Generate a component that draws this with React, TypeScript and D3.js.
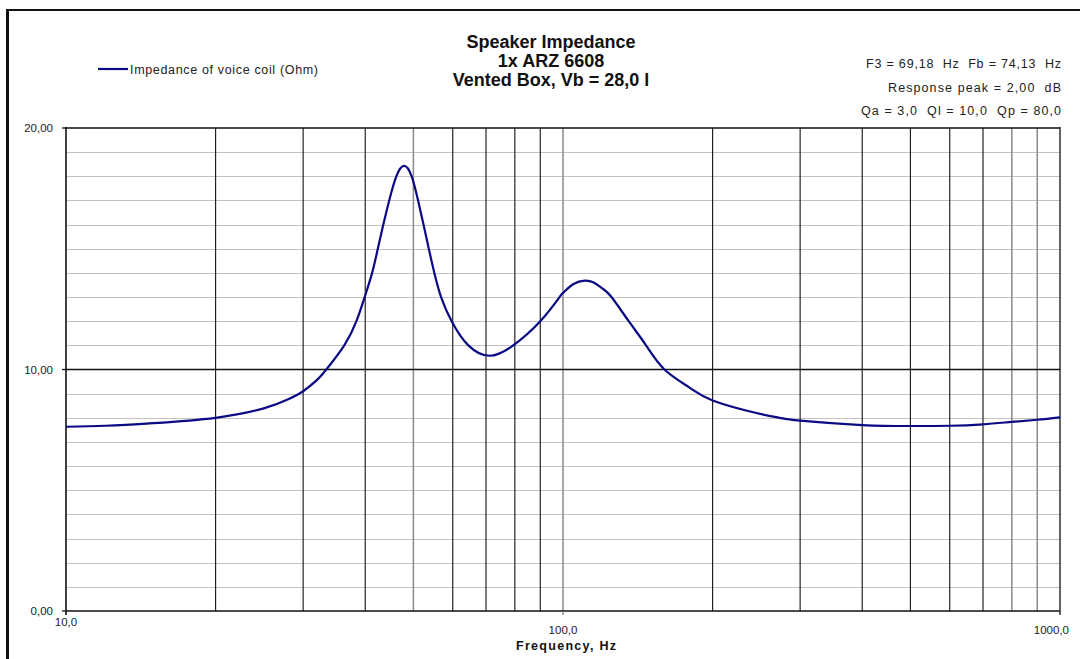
import React from "react";
import * as d3 from "d3";

const W = 1080;
const H = 659;

const titleLines = ["Speaker Impedance", "1x ARZ 6608", "Vented Box, Vb = 28,0 l"];
const infoLines = ["F3 = 69,18  Hz  Fb = 74,13  Hz", "Response peak = 2,00  dB", "Qa = 3,0  Ql = 10,0  Qp = 80,0"];
const legendLabel = "Impedance of voice coil (Ohm)";
const xAxisTitle = "Frequency, Hz";

const freqs = [10, 12, 15, 20, 25, 28, 30, 32, 33.4, 36.3, 38.4, 39.9, 41.3, 42.4, 43.5, 44.7, 46.2, 47.9, 49.6, 51.1, 52.4, 53.7, 55.1, 56.85, 59.7, 64.5, 71.3, 79.4, 90, 98.4, 100, 105, 110.7, 115, 120, 125.2, 135.6, 146.9, 160, 180, 200, 245, 273, 300, 400, 500, 600, 700, 800, 900, 1000];
const impedance = [7.63, 7.67, 7.78, 8.0, 8.39, 8.77, 9.1, 9.57, 10, 11, 12, 13, 14, 15, 16, 17, 18, 18.43, 18, 17, 16, 15, 14, 13, 12, 11, 10.57, 11, 12, 13, 13.17, 13.54, 13.68, 13.61, 13.36, 13, 12, 11, 10, 9.24, 8.72, 8.2, 8.0, 7.88, 7.7, 7.66, 7.67, 7.73, 7.83, 7.92, 8.02];

const xGridFreqs = [20, 30, 40, 50, 60, 70, 80, 90, 100, 200, 300, 400, 500, 600, 700, 800, 900];
const xGridLight = [50, 100, 800, 900];
const xTickFreqs = [10, 100, 1000];
const xTickLabels = ["10,0", "100,0", "1000,0"];
const yTickValues = [0, 10, 20];
const yTickLabels = ["0,00", "10,00", "20,00"];
const yMinorValues = [1, 2, 3, 4, 5, 6, 7, 8, 9, 11, 12, 13, 14, 15, 16, 17, 18, 19];

export default function App() {
  const x = d3.scaleLog().domain([10, 1000]).range([66, 1060]);
  const y = d3.scaleLinear().domain([0, 20]).range([611, 128]);
  const pts: [number, number][] = freqs.map((f, i) => [f, impedance[i]]);
  const line = d3
    .line<[number, number]>()
    .x((d) => x(d[0]))
    .y((d) => y(d[1]))
    .curve(d3.curveNatural);
  const font = "'Liberation Sans', Arial, sans-serif";
  const xTickY = [626, 634, 634];
  const xTickAnchor = ["middle", "middle", "end"];
  const xTickDx = [0, 0, 9];
  const infoWidths = [195, 173, 200];

  return (
    <svg width={W} height={H} style={{ position: "absolute", left: 0, top: 0, background: "#fff" }} fontFamily={font}>
      <rect x={0} y={0} width={W} height={H} fill="#fff" />
      {/* frame */}
      <line x1={7} x2={W} y1={10} y2={10} stroke="#111" strokeWidth={2} />
      <line x1={7.5} x2={7.5} y1={9} y2={H} stroke="#111" strokeWidth={3} />

      {/* minor horizontal grid */}
      {yMinorValues.map((v) => (
        <line key={"hm" + v} x1={66} x2={1060} y1={Math.round(y(v)) + 0.5} y2={Math.round(y(v)) + 0.5} stroke="#c2c2c2" strokeWidth={1} />
      ))}
      {/* vertical grid */}
      {xGridFreqs.map((f) => (
        <line
          key={"v" + f}
          x1={x(f)}
          x2={x(f)}
          y1={128}
          y2={611}
          stroke={xGridLight.includes(f) ? "#8a8a8a" : "#111"}
          strokeWidth={xGridLight.includes(f) ? 1.5 : 1.1}
        />
      ))}
      {/* major horizontal */}
      <line x1={66} x2={1060} y1={y(10)} y2={y(10)} stroke="#111" strokeWidth={1.3} />
      <line x1={66} x2={1060} y1={y(20)} y2={y(20)} stroke="#111" strokeWidth={1.3} />
      {/* axes */}
      <line x1={66} x2={1060} y1={611} y2={611} stroke="#111" strokeWidth={1.6} />
      <line x1={66} x2={66} y1={127} y2={615} stroke="#111" strokeWidth={1.6} />
      <line x1={1060} x2={1060} y1={127} y2={615} stroke="#111" strokeWidth={1.3} />
      <line x1={x(100)} x2={x(100)} y1={611} y2={615} stroke="#777" strokeWidth={1.2} />

      {/* y ticks */}
      {yTickValues.map((v, i) => (
        <g key={"yt" + v}>
          <line x1={62} x2={66} y1={y(v)} y2={y(v)} stroke="#111" strokeWidth={1.3} />
          <text x={53} y={y(v) + 4} fontSize={11.5} textAnchor="end" fill="#222">
            {yTickLabels[i]}
          </text>
        </g>
      ))}
      {/* x tick labels */}
      {xTickFreqs.map((f, i) => (
        <text key={"xt" + f} x={x(f) + xTickDx[i]} y={xTickY[i]} fontSize={11.5} textAnchor={xTickAnchor[i] as any} fill="#222">
          {xTickLabels[i]}
        </text>
      ))}
      <text x={516} y={650} fontSize={12.5} fontWeight="bold" fill="#111" textLength={100} lengthAdjust="spacing">
        {xAxisTitle}
      </text>

      {/* curve */}
      <path d={line(pts) || ""} fill="none" stroke="#0a0a85" strokeWidth={2.2} />

      {/* title */}
      {titleLines.map((t, i) => (
        <text key={"t" + i} x={551} y={48 + i * 19} fontSize={18} fontWeight="bold" textAnchor="middle" fill="#111">
          {t}
        </text>
      ))}

      {/* legend */}
      <line x1={98} x2={128} y1={69} y2={69} stroke="#0a0a85" strokeWidth={2.2} />
      <text x={130} y={74} fontSize={12.5} fill="#222" textLength={188} lengthAdjust="spacing">
        {legendLabel}
      </text>

      {/* info */}
      {infoLines.map((t, i) => (
        <text
          key={"i" + i}
          x={1061 - infoWidths[i]}
          y={68 + i * 23.5}
          fontSize={12.5}
          fill="#222"
          textLength={infoWidths[i]}
          lengthAdjust="spacing"
          style={{ whiteSpace: "pre" }}
        >
          {t}
        </text>
      ))}
    </svg>
  );
}
